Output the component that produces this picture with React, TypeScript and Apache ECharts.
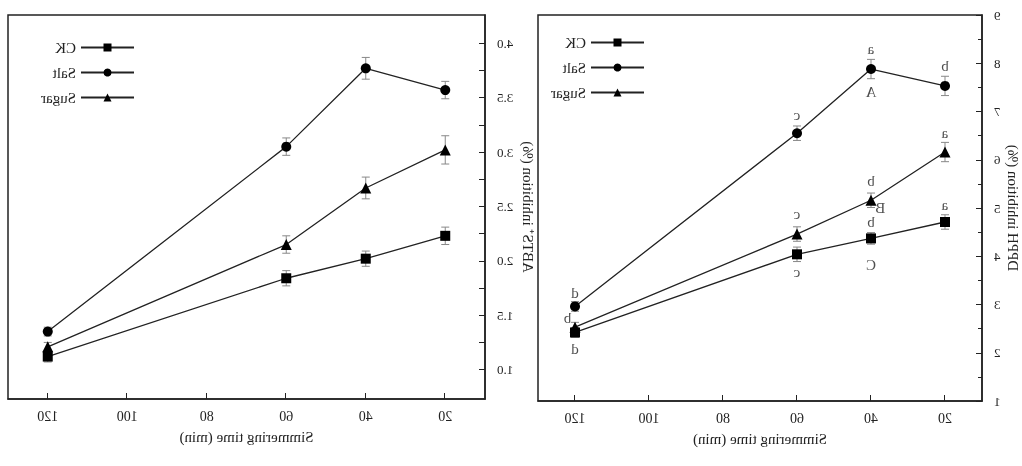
import { useEffect, useRef } from 'react'
import * as echarts from 'echarts'

const times = [120, 60, 40, 20]
const xTicks = [20, 40, 60, 80, 100, 120]

// DPPH panel (left in original orientation)
const dpphCK    = [2.42, 4.04, 4.37, 4.71]
const dpphSalt  = [2.96, 6.55, 7.88, 7.53]
const dpphSugar = [2.53, 4.46, 5.16, 6.16]
const dpphErrCK    = [0.1, 0.15, 0.12, 0.15]
const dpphErrSalt  = [0.1, 0.15, 0.2, 0.2]
const dpphErrSugar = [0.1, 0.15, 0.15, 0.2]
const dpphTicks = [1, 2, 3, 4, 5, 6, 7, 8, 9]
const dpphLetters: [number, number, string][] = [
  [120, 3.23, 'd'], [122, 2.71, 'b'], [120, 2.07, 'd'],
  [60, 6.93, 'c'], [60, 4.87, 'c'], [60, 3.68, 'c'],
  [40, 8.3, 'a'], [40, 7.4, 'A'], [40, 5.56, 'b'], [37.5, 4.99, 'B'], [40, 4.71, 'b'], [40, 3.81, 'C'],
  [20, 7.94, 'b'], [20, 6.55, 'a'], [20, 5.06, 'a'],
]

// ABTS panel (right in original orientation)
const abtsCK    = [1.12, 1.84, 2.02, 2.23]
const abtsSalt  = [1.35, 3.05, 3.77, 3.57]
const abtsSugar = [1.21, 2.15, 2.67, 3.02]
const abtsErrCK    = [0.05, 0.07, 0.07, 0.08]
const abtsErrSalt  = [0.04, 0.08, 0.1, 0.08]
const abtsErrSugar = [0.04, 0.08, 0.1, 0.13]
const abtsLabels = [1, 1.5, 2, 2.5, 3, 3.5, 4]
const abtsTicks = [1, 1.25, 1.5, 1.75, 2, 2.25, 2.5, 2.75, 3, 3.25, 3.5, 3.75, 4]

const font = 'Liberation Serif'
const ink = '#222'

const errorSeries = (vals: number[], errs: number[], idx: number) => ({
  type: 'custom',
  xAxisIndex: idx, yAxisIndex: idx,
  data: times.map((t, i) => [t, vals[i] - errs[i], vals[i] + errs[i]]),
  renderItem: (_p: any, api: any) => {
    const lo = api.coord([api.value(0), api.value(1)])
    const hi = api.coord([api.value(0), api.value(2)])
    const w = 4
    const st = { stroke: '#888', lineWidth: 1 }
    return {
      type: 'group',
      children: [
        { type: 'line', shape: { x1: lo[0], y1: lo[1], x2: hi[0], y2: hi[1] }, style: st },
        { type: 'line', shape: { x1: lo[0] - w, y1: lo[1], x2: lo[0] + w, y2: lo[1] }, style: st },
        { type: 'line', shape: { x1: hi[0] - w, y1: hi[1], x2: hi[0] + w, y2: hi[1] }, style: st },
      ],
    }
  },
  silent: true,
  z: 1,
})

const lineSeries = (name: string, vals: number[], symbol: string, idx: number) => ({
  name, type: 'line', xAxisIndex: idx, yAxisIndex: idx,
  data: times.map((t, i) => [t, vals[i]]),
  symbol, symbolSize: symbol === 'triangle' ? 11 : 10,
  lineStyle: { color: ink, width: 1.3 },
  itemStyle: { color: '#000' },
  z: 3,
})

const xAxis = (idx: number) => ({
  type: 'value', gridIndex: idx, min: 10, max: 130,
  name: 'Simmering time (min)', nameLocation: 'middle', nameGap: 30,
  nameTextStyle: { fontFamily: font, fontSize: 15, color: ink },
  axisLine: { lineStyle: { color: ink, width: 1.5 } },
  axisTick: { inside: true, length: 6, customValues: xTicks, lineStyle: { color: ink } },
  axisLabel: { customValues: xTicks, fontFamily: font, fontSize: 14, color: ink, margin: 10 },
  splitLine: { show: false },
})

export default function App() {
  const ref = useRef<HTMLDivElement>(null)

  useEffect(() => {
    if (!ref.current) return
    const chart = echarts.init(ref.current, undefined, { renderer: 'svg' })
    chart.setOption({
      animation: false,
      backgroundColor: '#fff',
      grid: [
        { left: 37, right: 538, top: 15, bottom: 65, show: true, borderColor: ink, borderWidth: 1.5 },
        { left: 537, right: 8, top: 15, bottom: 67, show: true, borderColor: ink, borderWidth: 1.5 },
      ],
      legend: [
        {
          data: ['CK', 'Salt', 'Sugar'], orient: 'vertical', left: 372, top: 30,
          itemWidth: 53, itemHeight: 10, itemGap: 10,
          textStyle: { fontFamily: font, fontSize: 15, color: ink },
        },
      ],
      xAxis: [xAxis(0), xAxis(1)],
      yAxis: [
        {
          type: 'value', gridIndex: 0, min: 1, max: 9, interval: 1,
          name: 'DPPH inhibition (%)', nameLocation: 'middle', nameGap: 24,
          nameTextStyle: { fontFamily: font, fontSize: 15, color: ink },
          axisLine: { show: true, lineStyle: { color: ink, width: 1.5 } },
          axisTick: { inside: true, length: 6, lineStyle: { color: ink } },
          minorTick: { show: true, splitNumber: 2, length: 4, lineStyle: { color: ink } },
          axisLabel: { fontFamily: font, fontSize: 13, color: ink, margin: 12 },
          splitLine: { show: false },
        },
        {
          type: 'value', gridIndex: 1, min: 0.73, max: 4.26,
          name: 'ABTS⁺ inhibition (%)', nameLocation: 'middle', nameGap: 36,
          nameTextStyle: { fontFamily: font, fontSize: 15, color: ink },
          axisLine: { show: true, lineStyle: { color: ink, width: 1.5 } },
          axisTick: { inside: true, length: 6, customValues: abtsTicks, lineStyle: { color: ink } },
          axisLabel: {
            customValues: abtsLabels, fontFamily: font, fontSize: 13, color: ink, margin: 12,
            formatter: (v: number) => v.toFixed(1),
          },
          splitLine: { show: false },
        },
      ],
      series: [
        errorSeries(dpphCK, dpphErrCK, 0),
        errorSeries(dpphSalt, dpphErrSalt, 0),
        errorSeries(dpphSugar, dpphErrSugar, 0),
        errorSeries(abtsCK, abtsErrCK, 1),
        errorSeries(abtsSalt, abtsErrSalt, 1),
        errorSeries(abtsSugar, abtsErrSugar, 1),
        lineSeries('CK', dpphCK, 'rect', 0),
        lineSeries('Salt', dpphSalt, 'circle', 0),
        lineSeries('Sugar', dpphSugar, 'triangle', 0),
        lineSeries('CK', abtsCK, 'rect', 1),
        lineSeries('Salt', abtsSalt, 'circle', 1),
        lineSeries('Sugar', abtsSugar, 'triangle', 1),
        {
          type: 'scatter', xAxisIndex: 0, yAxisIndex: 0, silent: true,
          symbolSize: 0,
          data: dpphLetters.map(([x, y, t]) => ({ value: [x, y], name: t })),
          label: {
            show: true, position: 'inside', formatter: (p: any) => p.name,
            fontFamily: font, fontSize: 15, color: ink,
          },
          z: 4,
        },
      ],
    })
    // second legend for the ABTS panel
    chart.setOption({
      legend: [
        {},
        {
          data: ['CK', 'Salt', 'Sugar'], orient: 'vertical', left: 882, top: 35,
          itemWidth: 53, itemHeight: 10, itemGap: 10,
          textStyle: { fontFamily: font, fontSize: 15, color: ink },
        },
      ],
    })
    return () => chart.dispose()
  }, [])

  return (
    <div
      ref={ref}
      style={{ position: 'fixed', left: 0, top: 0, width: 1022, height: 466, transform: 'scaleX(-1)' }}
    />
  )
}
